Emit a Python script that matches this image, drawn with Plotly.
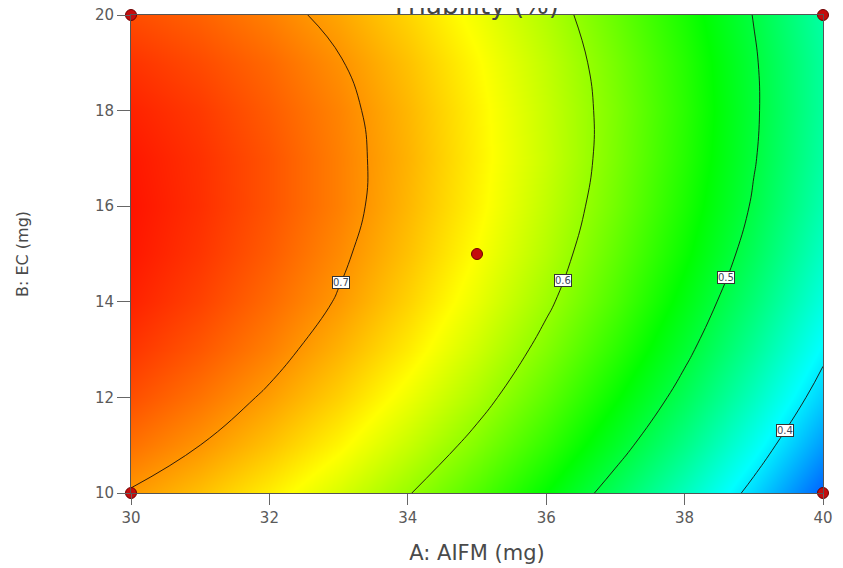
import numpy as np
import plotly.graph_objects as go

# ---- data ----
A_mg = [30, 31, 32, 33, 34, 35, 36, 37, 38, 39, 40]          # A: AIFM (mg)
B_mg = [10, 11, 12, 13, 14, 15, 16, 17, 18, 19, 20]          # B: EC (mg)
# Friability (%) read from the response surface; rows = B, columns = A
friability = [
    [0.698, 0.680, 0.658, 0.632, 0.602, 0.568, 0.530, 0.487, 0.441, 0.391, 0.336],
    [0.717, 0.700, 0.679, 0.654, 0.624, 0.591, 0.554, 0.512, 0.467, 0.417, 0.363],
    [0.733, 0.716, 0.696, 0.672, 0.643, 0.611, 0.574, 0.533, 0.489, 0.440, 0.387],
    [0.745, 0.729, 0.710, 0.686, 0.659, 0.627, 0.591, 0.551, 0.507, 0.459, 0.407],
    [0.754, 0.739, 0.720, 0.698, 0.671, 0.640, 0.605, 0.566, 0.522, 0.475, 0.424],
    [0.759, 0.745, 0.727, 0.705, 0.679, 0.649, 0.615, 0.576, 0.534, 0.488, 0.437],
    [0.761, 0.748, 0.731, 0.710, 0.684, 0.655, 0.621, 0.584, 0.542, 0.497, 0.447],
    [0.759, 0.747, 0.731, 0.710, 0.686, 0.657, 0.625, 0.588, 0.547, 0.502, 0.453],
    [0.754, 0.743, 0.727, 0.708, 0.684, 0.656, 0.624, 0.589, 0.549, 0.504, 0.456],
    [0.746, 0.735, 0.721, 0.702, 0.679, 0.652, 0.621, 0.586, 0.547, 0.503, 0.456],
    [0.734, 0.724, 0.710, 0.692, 0.670, 0.644, 0.614, 0.579, 0.541, 0.499, 0.452],
]
contour_levels = [0.4, 0.5, 0.6, 0.7]
level_labels = ["0.4", "0.5", "0.6", "0.7"]
design_A = [30, 30, 40, 40, 35]
design_B = [10, 20, 10, 20, 15]
x_ticks = [30, 32, 34, 36, 38, 40]
y_ticks = [10, 12, 14, 16, 18, 20]

# ---- layout constants ----
label_heights = [11.3, 14.5, 14.45, 14.4]     # B at which each contour label sits
color_low, color_high = 0.29, 0.77
FONT = "DejaVu Sans"

A = np.array(A_mg, dtype=float)
B = np.array(B_mg, dtype=float)
Z = np.array(friability, dtype=float)

colorscale = [
    [0.0, "rgb(0,0,255)"],
    [0.25, "rgb(0,255,255)"],
    [0.5, "rgb(0,255,0)"],
    [0.75, "rgb(255,255,0)"],
    [1.0, "rgb(255,0,0)"],
]

fig = go.Figure()
fig.add_trace(go.Contour(
    x=A_mg, y=B_mg, z=friability,
    colorscale=colorscale, zmin=color_low, zmax=color_high, zauto=False,
    showscale=False,
    contours=dict(coloring="heatmap", start=min(contour_levels),
                  end=max(contour_levels), size=0.1, showlines=True),
    line=dict(color="rgba(25,15,10,0.9)", width=1, smoothing=1.3),
    hoverinfo="skip",
))
fig.add_trace(go.Scatter(
    x=design_A, y=design_B, mode="markers",
    marker=dict(size=11, color="#c40d0d", line=dict(color="#6e0000", width=1)),
    cliponaxis=False, hoverinfo="skip", showlegend=False,
))

# contour labels positioned on the interpolated surface
annotations = []
for lev, txt, bh in zip(contour_levels, level_labels, label_heights):
    zrow = np.array([np.interp(bh, B, Z[:, j]) for j in range(len(A))])
    a_pos = float(np.interp(lev, zrow[::-1], A[::-1]))
    annotations.append(dict(
        x=a_pos, y=bh, xref="x", yref="y", text=txt, showarrow=False,
        font=dict(family=FONT, size=10, color="#3d4a5c"),
        bgcolor="white", bordercolor="#333333", borderwidth=1, borderpad=0,
    ))

# chart title (sits at the very top edge, partly cut off as in the original)
annotations.append(dict(
    text="Friability (%)", x=0.5, xref="paper", xanchor="center",
    y=1.0, yref="paper", yanchor="middle", yshift=10, showarrow=False,
    font=dict(family=FONT, size=26, color="#444444"),
))

fig.update_layout(
    width=843, height=568,
    margin=dict(l=123, r=28, t=7, b=83),
    paper_bgcolor="white", plot_bgcolor="white",
    showlegend=False,
    annotations=annotations,
    xaxis=dict(
        range=[30, 40], tickvals=x_ticks, ticks="outside", ticklen=11,
        tickcolor="#666666", tickwidth=1, showgrid=False, zeroline=False,
        showline=True, linecolor="#555555", linewidth=1, mirror=True,
        tickfont=dict(family=FONT, size=15, color="#5a5a5a"),
        ticklabeloverflow="allow",
        title=dict(text="A: AIFM (mg)", standoff=19,
                   font=dict(family=FONT, size=21, color="#4a4a4a")),
        automargin=False,
    ),
    yaxis=dict(
        range=[10, 20], tickvals=y_ticks, ticks="outside", ticklen=13,
        tickcolor="#666666", tickwidth=1, showgrid=False, zeroline=False,
        showline=True, linecolor="#555555", linewidth=1, mirror=True,
        tickfont=dict(family=FONT, size=15, color="#5a5a5a"),
        ticklabeloverflow="allow",
        title=dict(text="B: EC (mg)", standoff=62,
                   font=dict(family=FONT, size=16, color="#4a4a4a")),
        automargin=False,
    ),
)

fig.write_html("out.html")
